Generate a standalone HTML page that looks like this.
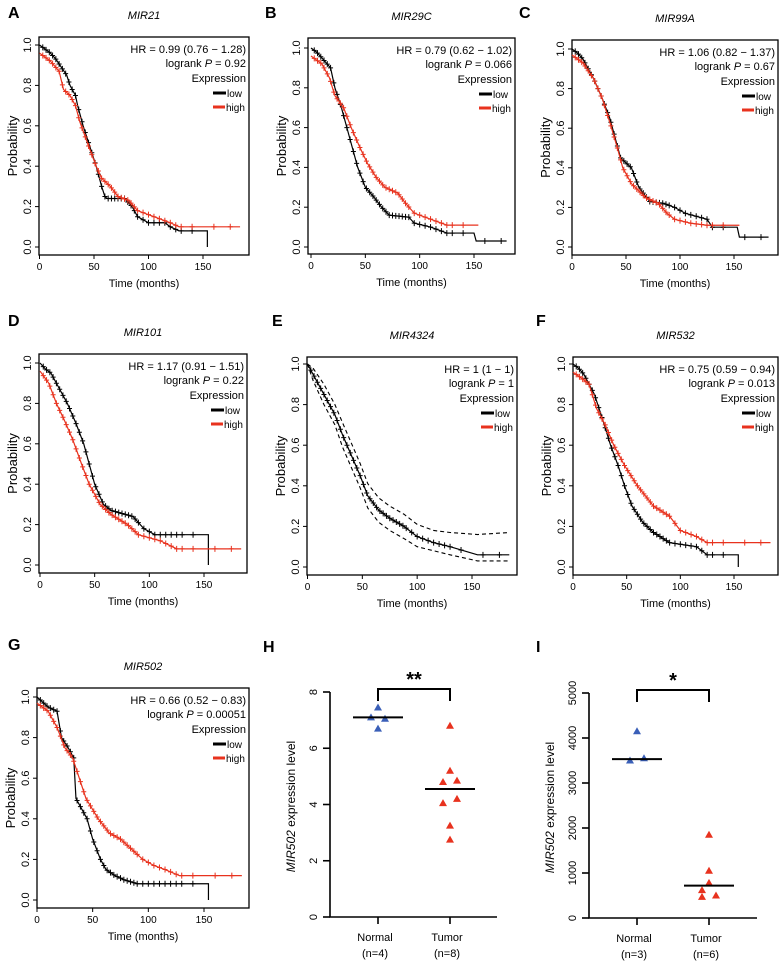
<!DOCTYPE html>
<html><head><meta charset="utf-8">
<style>
html,body{margin:0;padding:0;background:#fff;}
svg{display:block;font-family:"Liberation Sans",Arial,sans-serif;}
</style></head>
<body>
<svg id="fig" width="779" height="961" viewBox="0 0 779 961" xmlns="http://www.w3.org/2000/svg"></svg>
<script>
// ---------- KM data (time in months, survival probability) ----------
const A_low_t=[0,5,10,15,20,25,28,33,35,40,46,52,57,60,62,78,85,90,100,115,120,128,154,154];
const A_low_s=[1,0.98,0.96,0.93,0.89,0.85,0.8,0.75,0.7,0.6,0.5,0.4,0.3,0.25,0.24,0.24,0.2,0.15,0.12,0.12,0.1,0.08,0.08,0];
const A_high_t=[0,5,10,18,22,28,33,37,45,52,57,65,72,82,90,100,110,120,128,184];
const A_high_s=[0.96,0.94,0.92,0.87,0.78,0.75,0.7,0.62,0.5,0.4,0.34,0.3,0.25,0.23,0.18,0.16,0.14,0.12,0.1,0.1];
const B_low_t=[0,5,10,18,22,28,33,38,43,50,58,65,72,90,95,110,125,150,152,180];
const B_low_s=[1,0.98,0.95,0.9,0.8,0.7,0.6,0.5,0.4,0.3,0.25,0.2,0.16,0.15,0.12,0.1,0.07,0.07,0.03,0.03];
const B_high_t=[0,5,10,17,22,30,37,45,52,60,68,80,87,95,105,115,125,154];
const B_high_s=[0.96,0.94,0.92,0.85,0.76,0.7,0.6,0.5,0.42,0.35,0.3,0.27,0.22,0.17,0.15,0.13,0.11,0.11];
const C_low_t=[0,5,10,20,28,35,40,45,55,62,72,85,95,105,125,130,153,155,182];
const C_low_s=[1,0.98,0.95,0.85,0.75,0.65,0.55,0.45,0.4,0.3,0.23,0.22,0.2,0.17,0.14,0.1,0.1,0.05,0.05];
const C_high_t=[0,5,10,20,28,35,42,47,55,68,80,88,95,110,125,155];
const C_high_s=[0.97,0.95,0.93,0.85,0.75,0.63,0.5,0.4,0.32,0.25,0.22,0.17,0.14,0.12,0.11,0.11];
const D_low_t=[0,5,10,17,25,33,40,45,50,58,65,85,95,105,154,154];
const D_low_s=[1,0.97,0.95,0.88,0.8,0.7,0.6,0.5,0.4,0.3,0.27,0.24,0.18,0.15,0.15,0];
const D_high_t=[0,4,8,15,22,30,38,45,55,65,80,90,110,125,184];
const D_high_s=[0.96,0.93,0.9,0.8,0.72,0.62,0.5,0.4,0.3,0.25,0.2,0.15,0.12,0.08,0.08];
const E_t=[0,5,15,25,32,40,48,55,65,75,88,100,115,130,155,184];
const E_s=[1,0.95,0.85,0.75,0.65,0.55,0.45,0.35,0.28,0.24,0.2,0.15,0.12,0.1,0.06,0.06];
const E_hi=[1,0.98,0.9,0.8,0.71,0.61,0.51,0.41,0.34,0.3,0.26,0.21,0.18,0.17,0.16,0.17];
const E_lo=[1,0.92,0.8,0.7,0.59,0.49,0.39,0.29,0.22,0.18,0.14,0.1,0.08,0.06,0.03,0.03];
const F_low_t=[0,5,10,20,28,35,42,48,55,65,75,90,115,125,154,154];
const F_low_s=[1,0.98,0.95,0.85,0.72,0.6,0.5,0.4,0.3,0.22,0.17,0.12,0.1,0.06,0.06,0];
const F_high_t=[0,8,15,22,30,38,48,60,75,90,100,115,125,184];
const F_high_s=[0.96,0.93,0.9,0.78,0.7,0.6,0.5,0.4,0.3,0.25,0.18,0.15,0.12,0.12];
const G_low_t=[0,10,18,22,28,33,35,40,45,50,57,62,70,78,90,154,154];
const G_low_s=[1,0.95,0.93,0.8,0.75,0.7,0.5,0.45,0.4,0.3,0.2,0.15,0.12,0.1,0.08,0.08,0];
const G_high_t=[0,10,18,25,32,38,44,55,65,75,85,95,105,115,128,184];
const G_high_s=[0.97,0.93,0.85,0.75,0.7,0.6,0.5,0.4,0.33,0.3,0.25,0.2,0.17,0.15,0.12,0.12];
const censorTimes=[3,6,9,12,15,18,21,24,27,30,33,36,39,42,45,48,51,54,57,60,63,66,69,72,75,78,81,84,87,90,95,100,105,110,115,120,125,130,140,160,175];
const xTicks=[0,50,100,150];
const yTicks=[0,0.2,0.4,0.6,0.8,1.0];
// ---------- dot plot data ----------
const H_categories=["Normal","Tumor"];
const H_normal=[7.45,7.1,7.05,6.7];
const H_tumor=[6.8,5.2,4.8,4.85,4.2,4.05,3.25,2.75];
const H_medians=[7.1,4.55];
const H_ticks=[0,2,4,6,8];
const I_normal=[4150,3500,3550];
const I_tumor=[1850,1050,780,620,470,500];
const I_medians=[3530,720];
const I_ticks=[0,1000,2000,3000,4000,5000];

const NS="http://www.w3.org/2000/svg";
const svg=document.getElementById('fig');
function mk(tag,attrs,parent,text){const e=document.createElementNS(NS,tag);for(const k in attrs)e.setAttribute(k,attrs[k]);if(text!==undefined)e.textContent=text;(parent||svg).appendChild(e);return e;}

const panels=[
 {id:'A',title:'MIR21',bx:[39,249],by:[37,255],x0:39.5,x150:203,y1:45,y0:247,hr:'HR = 0.99 (0.76 − 1.28)',p:'0.92',low:[A_low_t,A_low_s],high:[A_high_t,A_high_s],lx:8,ly:18},
 {id:'B',title:'MIR29C',bx:[308,515],by:[38,254],x0:311,x150:474,y1:48,y0:247,hr:'HR = 0.79 (0.62 − 1.02)',p:'0.066',low:[B_low_t,B_low_s],high:[B_high_t,B_high_s],lx:265,ly:18},
 {id:'C',title:'MIR99A',bx:[572,778],by:[40,255],x0:572,x150:734,y1:49,y0:247,hr:'HR = 1.06 (0.82 − 1.37)',p:'0.67',low:[C_low_t,C_low_s],high:[C_high_t,C_high_s],lx:519,ly:18},
 {id:'D',title:'MIR101',bx:[39,247],by:[354,573],x0:40,x150:204,y1:363,y0:565,hr:'HR = 1.17 (0.91 − 1.51)',p:'0.22',low:[D_low_t,D_low_s],high:[D_high_t,D_high_s],lx:8,ly:326},
 {id:'E',title:'MIR4324',bx:[307,517],by:[357,575],x0:307.5,x150:472,y1:364,y0:567,hr:'HR = 1 (1 − 1)',p:'1',low:[E_t,E_s],high:null,lx:272,ly:326},
 {id:'F',title:'MIR532',bx:[573,778],by:[357,575],x0:573,x150:734,y1:364,y0:567,hr:'HR = 0.75 (0.59 − 0.94)',p:'0.013',low:[F_low_t,F_low_s],high:[F_high_t,F_high_s],lx:536,ly:326},
 {id:'G',title:'MIR502',bx:[37,249],by:[688,908],x0:37,x150:204,y1:697,y0:900,hr:'HR = 0.66 (0.52 − 0.83)',p:'0.00051',low:[G_low_t,G_low_s],high:[G_high_t,G_high_s],lx:8,ly:650}
];

function curvePath(ts,ss,X,Y){let d=`M${X(ts[0])},${Y(ss[0])}`;for(let i=1;i<ts.length;i++){d+=` L${X(ts[i])},${Y(ss[i])}`;}return d;}
function survAt(ts,ss,t){for(let i=1;i<ts.length;i++){if(ts[i]>=t){const f=ts[i]===ts[i-1]?1:(t-ts[i-1])/(ts[i]-ts[i-1]);return ss[i-1]+f*(ss[i]-ss[i-1]);}}return ss[ss.length-1];}

panels.forEach(P=>{
 const g=mk('g',{});
 
 
 const X=t=>P.x0+(t/150)*(P.x150-P.x0);
 const Y=s=>P.y0-s*(P.y0-P.y1);
 const cx=(P.bx[0]+P.bx[1])/2;
 const lab=mk('text',{x:P.lx,y:P.ly,'font-size':16,'font-weight':'bold'},g,P.id);
 
 const tt=mk('text',{x:cx,y:P.by[0]-18,'font-size':11,'font-style':'italic','text-anchor':'middle'},g,P.title);
 
 const box=mk('rect',{x:P.bx[0],y:P.by[0],width:P.bx[1]-P.bx[0],height:P.by[1]-P.by[0],fill:'none',stroke:'#000','stroke-width':1.3},g);
 
 yTicks.forEach(v=>{
  mk('line',{x1:P.bx[0]-4,x2:P.bx[0],y1:Y(v),y2:Y(v),stroke:'#000'},g);
  const t=mk('text',{x:P.bx[0]-8,y:Y(v),'font-size':11,'text-anchor':'middle',transform:`rotate(-90 ${P.bx[0]-8} ${Y(v)})`},g,v.toFixed(1));
  
 });
 xTicks.forEach(v=>{
  mk('line',{x1:X(v),x2:X(v),y1:P.by[1],y2:P.by[1]+4,stroke:'#000'},g);
  const t=mk('text',{x:X(v),y:P.by[1]+15,'font-size':10,'text-anchor':'middle'},g,String(v));
  
 });
 const yl=mk('text',{x:P.bx[0]-22,y:(P.by[0]+P.by[1])/2,'font-size':13,'text-anchor':'middle',transform:`rotate(-90 ${P.bx[0]-22} ${(P.by[0]+P.by[1])/2})`},g,'Probability');
 
 const xl=mk('text',{x:cx,y:P.by[1]+32,'font-size':11,'text-anchor':'middle'},g,'Time (months)');
 
 const drawCurve=(ts,ss,col,name)=>{
  const p=mk('path',{d:curvePath(ts,ss,X,Y),fill:'none',stroke:col,'stroke-width':1.2},g);
  
  censorTimes.forEach(ct=>{if(ct<ts[ts.length-1]){const s=survAt(ts,ss,ct);if(s>0){const c=mk('path',{d:`M${X(ct)-2.5},${Y(s)} h5 M${X(ct)},${Y(s)-3} v6`,stroke:col,'stroke-width':1},g);}}});
 };
 if(P.id==='E'){
  const d1=mk('path',{d:curvePath(E_t,E_hi,X,Y),fill:'none',stroke:'#000','stroke-dasharray':'4,3','stroke-width':1.1},g);
  
  const d2=mk('path',{d:curvePath(E_t,E_lo,X,Y),fill:'none',stroke:'#000','stroke-dasharray':'4,3','stroke-width':1.1},g);
  
 }
 drawCurve(P.low[0],P.low[1],'#000','curve-low');
 if(P.high)drawCurve(P.high[0],P.high[1],'#e8321e','curve-high');
 const rx=P.bx[1]-3,ty=P.by[0];
 const l1=mk('text',{x:rx,y:ty+16,'font-size':11,'text-anchor':'end'},g,P.hr);
 
 const l2=mk('text',{x:rx,y:ty+30,'font-size':11,'text-anchor':'end'},g);
 
 l2.innerHTML='logrank <tspan font-style="italic">P</tspan> = '+P.p;
 const l3=mk('text',{x:rx,y:ty+45,'font-size':11,'text-anchor':'end'},g,'Expression');
 
 const lg=mk('g',{},g);
 mk('line',{x1:rx-33,x2:rx-20,y1:ty+56,y2:ty+56,stroke:'#000','stroke-width':3},lg);
 mk('text',{x:rx-19,y:ty+60,'font-size':10},lg,'low');
 const hg=mk('g',{},g);
 mk('line',{x1:rx-33,x2:rx-21,y1:ty+70,y2:ty+70,stroke:'#e8321e','stroke-width':3},hg);
 mk('text',{x:rx-20,y:ty+74,'font-size':10},hg,'high');
});

// ---------- dot plots ----------
const dots=[
 {id:'H',ax:330,xr:497,yb:917,yt:692,max:8,ticks:H_ticks,normal:H_normal,tumor:H_tumor,med:H_medians,cx:[378,450],n:['(n=4)','(n=8)'],star:'**',lx:263,ly:652,
  offsN:[0,-7,7,0],offsT:[0,0,-7,7,7,-7,0,0]},
 {id:'I',ax:589,xr:757,yb:918,yt:693,max:5000,ticks:I_ticks,normal:I_normal,tumor:I_tumor,med:I_medians,cx:[637,709],n:['(n=3)','(n=6)'],star:'*',lx:536,ly:652,
  offsN:[0,-7,7],offsT:[0,0,0,-7,-7,7]}
];
dots.forEach(D=>{
 const g=mk('g',{});
 
 
 const Y=v=>D.yb-(v/D.max)*(D.yb-D.yt);
 const lab=mk('text',{x:D.lx,y:D.ly,'font-size':16,'font-weight':'bold'},g,D.id);
 
 mk('path',{d:`M${D.ax},${D.yt} V${D.yb} H${D.xr}`,fill:'none',stroke:'#000','stroke-width':1.6},g);
 D.ticks.forEach(v=>{
  mk('line',{x1:D.ax-7,x2:D.ax,y1:Y(v),y2:Y(v),stroke:'#000','stroke-width':1.6},g);
  const t=mk('text',{x:D.ax-13,y:Y(v),'font-size':11,'text-anchor':'middle',transform:`rotate(-90 ${D.ax-13} ${Y(v)})`},g,String(v));
  
 });
 const ym=(D.yt+D.yb)/2+2, yx=D.ax-35;
 const yl=mk('text',{x:yx,y:ym,'font-size':12,'text-anchor':'middle',transform:`rotate(-90 ${yx} ${ym})`},g);
 
 yl.innerHTML='<tspan font-style="italic">MIR502</tspan> expression level';
 H_categories.forEach((c,i)=>{
  mk('line',{x1:D.cx[i],x2:D.cx[i],y1:D.yb,y2:D.yb+7,stroke:'#000','stroke-width':1.6},g);
  const t=mk('text',{x:D.cx[i]-3,y:D.yb+24,'font-size':11,'text-anchor':'middle'},g,c);
  
  const n=mk('text',{x:D.cx[i]-3,y:D.yb+40,'font-size':11,'text-anchor':'middle'},g,D.n[i]);
  
 });
 const tri=(x,y,col)=>{const p=mk('path',{d:`M${x},${y-4} L${x+4},${y+3} L${x-4},${y+3} Z`,fill:col},g);};
 D.normal.forEach((v,i)=>tri(D.cx[0]+D.offsN[i],Y(v),'#3a5fb8'));
 D.tumor.forEach((v,i)=>tri(D.cx[1]+D.offsT[i],Y(v),'#e8321e'));
 D.med.forEach((v,i)=>{const m=mk('line',{x1:D.cx[i]-25,x2:D.cx[i]+25,y1:Y(v),y2:Y(v),stroke:'#000','stroke-width':2},g);});
 const br=mk('path',{d:`M${D.cx[0]},${D.yt+9} V${D.yt-3} H${D.cx[1]} V${D.yt+9}`,fill:'none',stroke:'#000','stroke-width':2},g);
 
 const st=mk('text',{x:(D.cx[0]+D.cx[1])/2,y:D.yt-6,'font-size':20,'font-weight':'bold','text-anchor':'middle'},g,D.star);
 
});
</script>
</body></html>
